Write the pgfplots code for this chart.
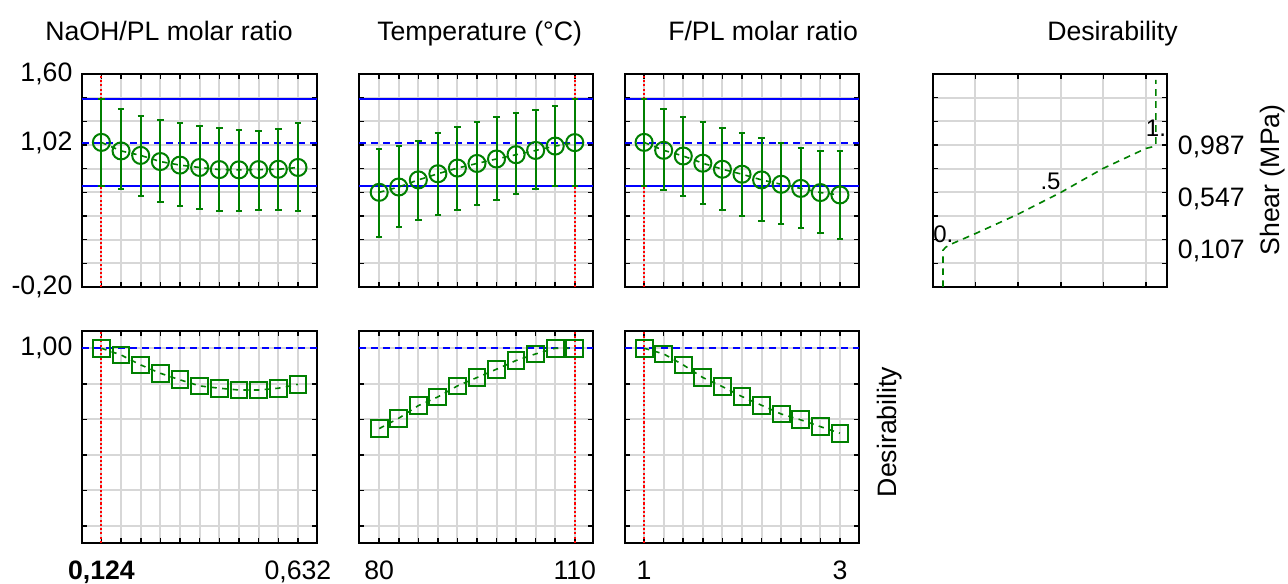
\documentclass[border=0pt]{standalone}
\usepackage{pgfplots}
\usepackage{pgfplotstable}
\pgfplotsset{compat=1.18}
\usepackage{fontspec}
\setmainfont{Liberation Sans}
\definecolor{sgreen}{RGB}{0,128,0}
\definecolor{sgrid}{RGB}{215,215,215}
\newcommand{\fs}{\fontsize{20}{24}\selectfont}
\newcommand{\fsm}{\fontsize{18}{21}\selectfont}

\pgfplotstableread{
x y hi lo
0.124  1.022 1.389 0.652
0.1748 0.950 1.301 0.624
0.2256 0.912 1.248 0.570
0.2764 0.860 1.208 0.522
0.3272 0.830 1.183 0.486
0.378  0.810 1.160 0.457
0.4288 0.792 1.140 0.443
0.4796 0.790 1.126 0.443
0.5304 0.792 1.121 0.449
0.5812 0.795 1.137 0.452
0.632  0.810 1.183 0.443
}\naohtop
\pgfplotstableread{
x y hi lo
80  0.600 0.963 0.223
83  0.645 0.991 0.308
86  0.705 1.036 0.364
89  0.757 1.098 0.412
92  0.805 1.149 0.452
95  0.844 1.197 0.494
98  0.882 1.233 0.539
101 0.918 1.267 0.584
104 0.954 1.295 0.624
107 0.991 1.332 0.652
110 1.020 1.389 0.652
}\temptop
\pgfplotstableread{
x y hi lo
1.0 1.022 1.389 0.652
1.2 0.955 1.301 0.618
1.4 0.907 1.239 0.567
1.6 0.846 1.191 0.505
1.8 0.795 1.146 0.449
2.0 0.753 1.104 0.401
2.2 0.705 1.058 0.359
2.4 0.668 1.013 0.330
2.6 0.633 0.971 0.299
2.8 0.598 0.948 0.257
3.0 0.578 0.948 0.204
}\fpltop
\pgfplotstableread{
x y
0.124  1.000
0.1748 0.962
0.2256 0.906
0.2764 0.859
0.3272 0.822
0.378  0.788
0.4288 0.775
0.4796 0.765
0.5304 0.765
0.5812 0.775
0.632  0.797
}\naohbot
\pgfplotstableread{
x y
80  0.548
83  0.606
86  0.677
89  0.726
92  0.788
95  0.835
98  0.882
101 0.931
104 0.968
107 1.000
110 1.000
}\tempbot
\pgfplotstableread{
x y
1.0 1.000
1.2 0.968
1.4 0.906
1.6 0.835
1.8 0.784
2.0 0.728
2.2 0.679
2.4 0.630
2.6 0.597
2.8 0.559
3.0 0.522
}\fplbot

\pgfplotsset{
  panel/.style={
    scale only axis, width=175.5pt, anchor=north west,
    enlargelimits=false,
    axis line style={line width=1.6pt},
    grid=major, major grid style={line width=1.5pt, sgrid},
    tick align=inside, major tick length=3.5pt,
    tick style={black, line width=1.2pt},
    tick label style={font=\fs},
    yticklabels={}, xticklabels={},
    yticklabel style={inner sep=0pt},
    xticklabel style={inner sep=0pt, yshift=-13.5pt},
    extra x tick style={grid=none, major tick length=0pt},
    extra y tick style={grid=none, major tick length=0pt},
  },
  toprow/.style={panel, height=159.75pt, ymin=-0.2, ymax=1.6,
    ytick={-0.2,0,0.2,0.4,0.6,0.8,1.0,1.2,1.4,1.6}},
  botrow/.style={panel, height=159pt, ymin=-0.096, ymax=1.097,
    ytick={0,0.2,0.4,0.6,0.8,1.0}},
  ci/.style={sgreen, line width=1.2pt, dash pattern=on 4pt off 4pt,
    mark=o, mark size=6.4pt, mark options={solid, line width=1.5pt},
    error bars/.cd, y dir=both, y explicit,
    error bar style={solid, line width=1.5pt},
    error mark=-,
    error mark options={solid, rotate=90, mark size=2.4pt, line width=1.5pt}},
  dsq/.style={sgreen, line width=1.2pt, dash pattern=on 4pt off 4pt,
    mark=square, mark size=6.3pt, mark options={solid, line width=1.5pt}},
  bsolid/.style={blue, line width=1.5pt},
  bdash/.style={blue, line width=1.5pt, dash pattern=on 5.5pt off 3.5pt},
  rdot/.style={red, line width=1.6pt, dash pattern=on 1.6pt off 1.6pt},
}

\begin{document}
\begin{tikzpicture}
\useasboundingbox (0,0) rectangle (966pt,-438pt);

% titles
\node[anchor=base west, font=\fs, inner sep=0pt] at (33.75pt,-30.75pt) {NaOH/PL molar ratio};
\node[anchor=base west, font=\fs, inner sep=0pt] at (282.75pt,-30.75pt) {Temperature (°C)};
\node[anchor=base west, font=\fs, inner sep=0pt] at (501pt,-30.75pt) {F/PL molar ratio};
\node[anchor=base west, font=\fs, inner sep=0pt] at (785.25pt,-30.75pt) {Desirability};

% ---- top row ----
\begin{axis}[toprow, at={(61.5pt,-55.5pt)}, width=176.25pt,
  xmin=0.0739, xmax=0.6812,
  xtick={0.124,0.1748,0.2256,0.2764,0.3272,0.378,0.4288,0.4796,0.5304,0.5812,0.632},
  yticklabel style={xshift=-7pt},
  extra y ticks={-0.2,1.02,1.6}, extra y tick labels={{-0,20},{1,02},{1,60}}]
\addplot[bsolid] coordinates {(0.0739,1.389) (0.6812,1.389)};
\addplot[bsolid] coordinates {(0.0739,0.652) (0.6812,0.652)};
\addplot[bdash] coordinates {(0.0739,1.02) (0.6812,1.02)};
\addplot[rdot] coordinates {(0.124,-0.2) (0.124,1.6)};
\addplot[ci] table[x=x, y=y, y error plus expr=\thisrow{hi}-\thisrow{y}, y error minus expr=\thisrow{y}-\thisrow{lo}] {\naohtop};
\end{axis}

\begin{axis}[toprow, at={(269.25pt,-55.5pt)},
  xmin=76.9, xmax=112.8,
  xtick={80,83,86,89,92,95,98,101,104,107,110}]
\addplot[bsolid] coordinates {(76.9,1.389) (112.8,1.389)};
\addplot[bsolid] coordinates {(76.9,0.652) (112.8,0.652)};
\addplot[bdash] coordinates {(76.9,1.02) (112.8,1.02)};
\addplot[rdot] coordinates {(110,-0.2) (110,1.6)};
\addplot[ci] table[x=x, y=y, y error plus expr=\thisrow{hi}-\thisrow{y}, y error minus expr=\thisrow{y}-\thisrow{lo}] {\temptop};
\end{axis}

\begin{axis}[toprow, at={(468.75pt,-55.5pt)},
  xmin=0.805, xmax=3.195,
  xtick={1,1.2,1.4,1.6,1.8,2,2.2,2.4,2.6,2.8,3}]
\addplot[bsolid] coordinates {(0.805,1.389) (3.195,1.389)};
\addplot[bsolid] coordinates {(0.805,0.652) (3.195,0.652)};
\addplot[bdash] coordinates {(0.805,1.02) (3.195,1.02)};
\addplot[rdot] coordinates {(1,-0.2) (1,1.6)};
\addplot[ci] table[x=x, y=y, y error plus expr=\thisrow{hi}-\thisrow{y}, y error minus expr=\thisrow{y}-\thisrow{lo}] {\fpltop};
\end{axis}

\begin{axis}[toprow, at={(699.75pt,-55.5pt)},
  xmin=-0.047, xmax=1.052,
  xtick={0.152,0.352,0.553,0.753,0.953},
  yticklabel pos=right, yticklabel style={anchor=west, xshift=8pt},
  extra y ticks={0.107,0.547,0.987}, extra y tick labels={{0,107},{0,547},{0,987}}]
\addplot[sgreen, line width=1.2pt, dash pattern=on 5pt off 4pt] coordinates {
 (0,-0.2) (0,0.11) (0.012,0.135) (0.035,0.160) (0.152,0.251) (0.352,0.415)
 (0.553,0.599) (0.752,0.802) (0.953,0.971) (0.985,0.985) (1.0,1.0) (1.0,1.55)};
\node[anchor=base west, font=\fsm, inner sep=0pt] at (axis cs:-0.047,0.18) {0.};
\node[anchor=base, font=\fsm, inner sep=0pt] at (axis cs:0.505,0.62) {.5};
\node[anchor=base, font=\fsm, inner sep=0pt] at (axis cs:1.0,1.076) {1.};
\end{axis}
\node[rotate=90, anchor=base, font=\fs, inner sep=0pt] at (959.5pt,-135pt) {Shear (MPa)};

% ---- bottom row ----
\begin{axis}[botrow, at={(61.5pt,-248.25pt)}, width=176.25pt,
  xmin=0.0739, xmax=0.6812,
  xtick={0.124,0.1748,0.2256,0.2764,0.3272,0.378,0.4288,0.4796,0.5304,0.5812,0.632},
  yticklabel style={xshift=-7pt},
  extra y ticks={1}, extra y tick labels={1{,}00},
  extra x ticks={0.124,0.632}, extra x tick labels={{\textbf{0,124}},{0,632}}]
\addplot[bdash] coordinates {(0.0739,1) (0.6812,1)};
\addplot[rdot] coordinates {(0.124,-0.096) (0.124,1.097)};
\addplot[dsq] table[x=x, y=y] {\naohbot};
\end{axis}

\begin{axis}[botrow, at={(269.25pt,-248.25pt)},
  xmin=76.9, xmax=112.8,
  xtick={80,83,86,89,92,95,98,101,104,107,110},
  extra x ticks={80,110}, extra x tick labels={80,110}]
\addplot[bdash] coordinates {(76.9,1) (112.8,1)};
\addplot[rdot] coordinates {(110,-0.096) (110,1.097)};
\addplot[dsq] table[x=x, y=y] {\tempbot};
\end{axis}

\begin{axis}[botrow, at={(468.75pt,-248.25pt)},
  xmin=0.805, xmax=3.195,
  xtick={1,1.2,1.4,1.6,1.8,2,2.2,2.4,2.6,2.8,3},
  extra x ticks={1,3}, extra x tick labels={1,3}]
\addplot[bdash] coordinates {(0.805,1) (3.195,1)};
\addplot[rdot] coordinates {(1,-0.096) (1,1.097)};
\addplot[dsq] table[x=x, y=y] {\fplbot};
\end{axis}
\node[rotate=90, anchor=base, font=\fs, inner sep=0pt] at (672pt,-324pt) {Desirability};
\end{tikzpicture}
\end{document}
